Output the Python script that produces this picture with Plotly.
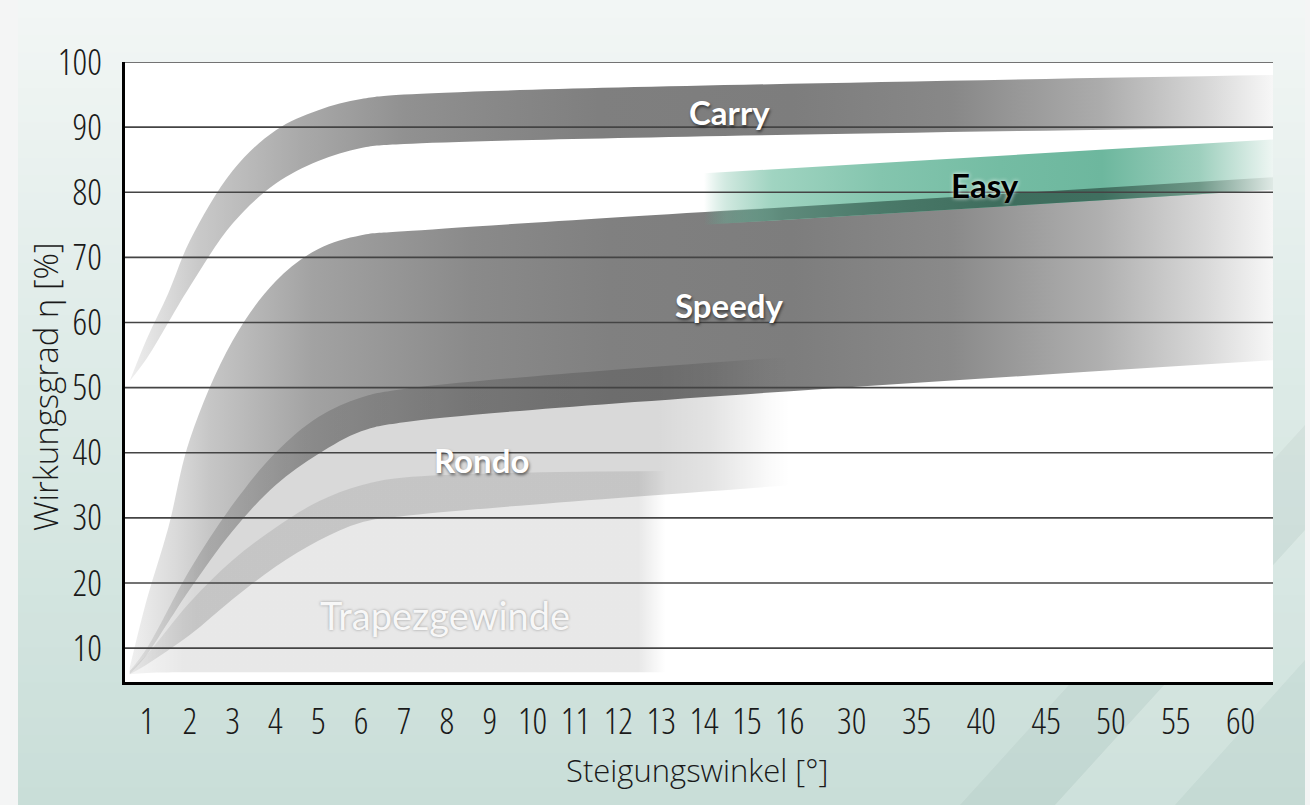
import plotly.graph_objects as go

# ---------------- data ----------------
angle_ticks = [1, 2, 3, 4, 5, 6, 7, 8, 9, 10, 11, 12, 13, 14, 15, 16, 30, 35, 40, 45, 50, 55, 60]
angle_labels = [str(a) for a in angle_ticks]
eta_ticks = [10, 20, 30, 40, 50, 60, 70, 80, 90, 100]

carry_x = [0.6, 1, 1.5, 2, 3, 4, 5, 6, 7, 62.5]
carry_hi = [51, 57.5, 64.5, 72.5, 83.3, 89.5, 92.6, 94.3, 95.0, 98.0]
carry_lo = [51, 54.5, 60.0, 65.5, 75.2, 81.3, 84.8, 86.8, 87.4, 90.0]

speedy_x = [0.6, 1, 1.5, 2, 3, 4, 5, 6, 7, 62.5]
speedy_hi = [7, 17.5, 28.5, 42.0, 57.2, 66.3, 71.3, 73.4, 74.0, 82.3]
speedy_lo = [6, 9.0, 14.0, 19.0, 28.0, 35.0, 39.8, 43.3, 44.7, 54.2]

rondo_x = [0.6, 1, 2, 3, 4, 5, 6, 7, 16]
rondo_hi = [6.5, 10, 22, 32, 40, 45.5, 48.5, 49.8, 54.7]
rondo_lo = [6.0, 7.5, 12, 17.5, 22.5, 26.5, 29.3, 30.3, 35.0]

trapez_x = [0.6, 1, 2, 3, 4, 5, 6, 7, 13.1]
trapez_hi = [6.5, 9, 17, 23.5, 28.5, 32.5, 35, 36.2, 37.2]
trapez_lo = [6.0, 6.2, 6.3, 6.3, 6.3, 6.3, 6.3, 6.3, 6.3]

easy_x = [14, 62.5]
easy_hi = [82.9, 88.1]
easy_lo = [75.0, 80.4]
speedy_hi_under_easy = [76.9, 82.3]

label_text = ["Carry", "Easy", "Speedy", "Rondo", "Trapezgewinde"]
label_angle = [14.6, 40.3, 14.6, 8.81, 7.95]
label_eta = [92.3, 81.1, 62.7, 38.9, 15.05]

X_MIN, X_MAX = 0.49, 62.5
Y_MIN, Y_MAX = 4.8, 100


def pos(a):
    """Position on the (broken) horizontal axis: 1..16 evenly, then 30..60 in 5er steps."""
    if a <= 16:
        return a
    return 16 + 1.446 + (a - 30) / 5 * 1.512


def P(xs):
    return [pos(a) for a in xs]


fig = go.Figure()


def band(xs, lo, hi, scale, shape="spline"):
    px = P(xs)
    fig.add_trace(go.Scatter(x=px, y=lo, mode="lines", line=dict(width=0, shape=shape),
                             hoverinfo="skip", showlegend=False))
    fig.add_trace(go.Scatter(x=px, y=hi, mode="lines", line=dict(width=0, shape=shape),
                             fill="tonexty", hoverinfo="skip", showlegend=False,
                             fillgradient=dict(type="horizontal", colorscale=scale,
                                               start=min(px), stop=max(px))))


gray_scale_carry = [[0, "#efefef"], [0.06, "#c9c9c9"], [0.15, "#a9a9a9"], [0.24, "#919191"],
                    [0.30, "#8a8a8a"], [0.41, "#7f7f7f"], [0.58, "#7d7d7d"], [0.72, "#888888"],
                    [0.85, "#acacac"], [0.94, "#d6d6d6"], [1, "#f7f7f7"]]
gray_scale_speedy = [[0, "#f0f0f0"], [0.04, "#dadada"], [0.07, "#c6c6c6"], [0.16, "#a2a2a2"],
                     [0.30, "#8a8a8a"], [0.42, "#808080"], [0.58, "#7d7d7d"], [0.72, "#8a8a8a"],
                     [0.85, "#b0b0b0"], [0.94, "#d8d8d8"], [1, "#f7f7f7"]]
rondo_scale = [[0, "rgba(0,0,0,0.06)"], [0.1, "rgba(0,0,0,0.15)"], [0.80, "rgba(0,0,0,0.15)"],
               [0.88, "rgba(0,0,0,0.11)"], [0.97, "rgba(0,0,0,0.02)"], [1, "rgba(0,0,0,0)"]]
trapez_scale = [[0, "rgba(0,0,0,0.04)"], [0.1, "rgba(0,0,0,0.09)"], [0.95, "rgba(0,0,0,0.09)"],
                [1, "rgba(0,0,0,0.0)"]]
easy_scale = [[0, "rgba(120,190,165,0)"], [0.04, "rgba(150,205,185,0.45)"], [0.12, "#a0d4c1"],
              [0.31, "#84c5ae"], [0.52, "#74bca3"], [0.70, "#6db79e"], [0.87, "#9dcfbd"],
              [1, "#eef6f3"]]
easy_dark_scale = [[0, "rgba(60,110,95,0)"], [0.05, "rgba(70,115,100,0.4)"], [0.14, "#5e8a7b"],
                   [0.30, "#4b7a6a"], [0.52, "#3e6d5d"], [0.70, "#3f6f5f"], [0.87, "#6f9888"],
                   [1, "#dfe9e5"]]

band(carry_x, carry_lo, carry_hi, gray_scale_carry)
band(speedy_x, speedy_lo, speedy_hi, gray_scale_speedy)
band(trapez_x, trapez_lo, trapez_hi, trapez_scale)
band(rondo_x, rondo_lo, rondo_hi, rondo_scale)
band(easy_x, easy_lo, easy_hi, easy_scale, shape="linear")
band(easy_x, easy_lo, speedy_hi_under_easy, easy_dark_scale, shape="linear")

# ---------------- background ----------------
W, H = 1310, 805
ML, MR, MT, MB = 125, 37, 62, 123
PW, PH = W - ML - MR, H - MT - MB


def xp(px):
    return (px - ML) / PW


def yp(py):
    return (H - MB - py) / PH


def lerp(c1, c2, t):
    return tuple(round(a + (b - a) * t) for a, b in zip(c1, c2))


top_c, mid_c, bot_c = (242, 246, 245), (220, 234, 230), (201, 222, 216)
shapes = []
N = 46
for i in range(N):
    y0 = H * i / N
    y1 = H * (i + 1) / N + 1
    t = (i + 0.5) / N
    c = lerp(top_c, mid_c, t * 2) if t < 0.5 else lerp(mid_c, bot_c, (t - 0.5) * 2)
    shapes.append(dict(type="rect", xref="paper", yref="paper", x0=xp(-2), x1=xp(W + 2),
                       y0=yp(y1), y1=yp(y0), line=dict(width=0),
                       fillcolor="rgb(%d,%d,%d)" % c, layer="below"))
# light side strips
for a, b in [(-2, 18), (1305, W + 2)]:
    shapes.append(dict(type="rect", xref="paper", yref="paper", x0=xp(a), x1=xp(b),
                       y0=yp(H + 2), y1=yp(-2), line=dict(width=0),
                       fillcolor="#f4f5f5", layer="below"))


def poly(pts):
    return "M " + " L ".join("%f,%f" % (xp(a), yp(b)) for a, b in pts) + " Z"


shapes.append(dict(type="path", xref="paper", yref="paper",
                   path=poly([(960, 805), (1055, 805), (1305, 530), (1305, 425)]),
                   fillcolor="rgba(0,40,30,0.035)", line=dict(width=0), layer="below"))
shapes.append(dict(type="path", xref="paper", yref="paper",
                   path=poly([(1055, 805), (1175, 805), (1305, 660), (1305, 530)]),
                   fillcolor="rgba(255,255,255,0.10)", line=dict(width=0), layer="below"))
shapes.append(dict(type="path", xref="paper", yref="paper",
                   path=poly([(1175, 805), (1305, 805), (1305, 660)]),
                   fillcolor="rgba(0,40,30,0.02)", line=dict(width=0), layer="below"))
# white plot area
shapes.append(dict(type="rect", xref="paper", yref="paper", x0=0, x1=1, y0=0, y1=1,
                   line=dict(width=0), fillcolor="white", layer="below"))
# gridlines above bands
for v in eta_ticks:
    shapes.append(dict(type="line", xref="paper", x0=0, x1=1, yref="y", y0=v, y1=v,
                       line=dict(color="#444444", width=1.6), layer="above"))

# ---------------- labels ----------------
styles = {
    "Carry": dict(color="white", weight="bold", size=33, shadow="1px 2px 3px rgba(0,0,0,0.55)"),
    "Speedy": dict(color="white", weight="bold", size=33, shadow="1px 2px 3px rgba(0,0,0,0.55)"),
    "Rondo": dict(color="white", weight="bold", size=33, shadow="1px 2px 3px rgba(0,0,0,0.55)"),
    "Easy": dict(color="black", weight="bold", size=33, shadow="0px 0px 4px rgba(255,255,255,0.95)"),
    "Trapezgewinde": dict(color="#f7f7f7", weight="normal", size=38,
                          shadow="0px 0px 3px rgba(0,0,0,0.35)"),
}
annotations = []
for t, a, v in zip(label_text, label_angle, label_eta):
    s = styles[t]
    annotations.append(dict(x=pos(a), y=v, xref="x", yref="y", text=t, showarrow=False,
                            font=dict(family="Lato, Liberation Sans, sans-serif",
                                      size=s["size"], color=s["color"], weight=s["weight"],
                                      shadow=s["shadow"])))

tick_font = dict(family="Open Sans, sans-serif", weight=300, size=36, color="#1a1a1a")
annotations.append(dict(x=xp(45), y=yp(387), xref="paper", yref="paper",
                        xanchor="center", yanchor="middle",
                        text="Wirkungsgrad η [%]", textangle=-90, showarrow=False,
                        font=dict(family="Open Sans, sans-serif", weight=300, size=33,
                                  color="#1a1a1a")))
annotations.append(dict(x=xp(697), y=yp(770), xref="paper", yref="paper",
                        xanchor="center", yanchor="middle",
                        text="Steigungswinkel [°]", showarrow=False,
                        font=dict(family="Open Sans, sans-serif", weight=300, size=31,
                                  color="#1a1a1a")))

fig.update_layout(
    width=W, height=H,
    margin=dict(l=ML, r=MR, t=MT, b=MB, pad=0),
    paper_bgcolor="#e0ece8", plot_bgcolor="white",
    shapes=shapes, annotations=annotations, showlegend=False,
    xaxis=dict(range=[pos(X_MIN), pos(X_MAX)], tickmode="array",
               tickvals=P(angle_ticks), ticktext=angle_labels, showgrid=False,
               zeroline=False, showline=True, linecolor="black", linewidth=3,
               ticks="", tickangle=0, tickfont=tick_font, ticklabelstandoff=6,
               layer="above traces"),
    yaxis=dict(range=[Y_MIN, Y_MAX], tickmode="array", tickvals=eta_ticks,
               ticktext=[str(v) for v in eta_ticks], showgrid=False, zeroline=False,
               showline=True, linecolor="black", linewidth=3, ticks="",
               tickfont=tick_font, ticklabelstandoff=13, layer="above traces"),
)

css = (".xtick text, .ytick text { font-stretch: 75% !important; "
       "font-variant-numeric: proportional-nums; }")
post = (
    "document.body.style.margin='0px';document.body.style.overflow='hidden';"
    "var st=document.createElement('style');st.textContent=" + repr(css) + ";"
    "document.head.appendChild(st);"
)
fig.write_html("out.html", post_script=post, config={"displayModeBar": False})
